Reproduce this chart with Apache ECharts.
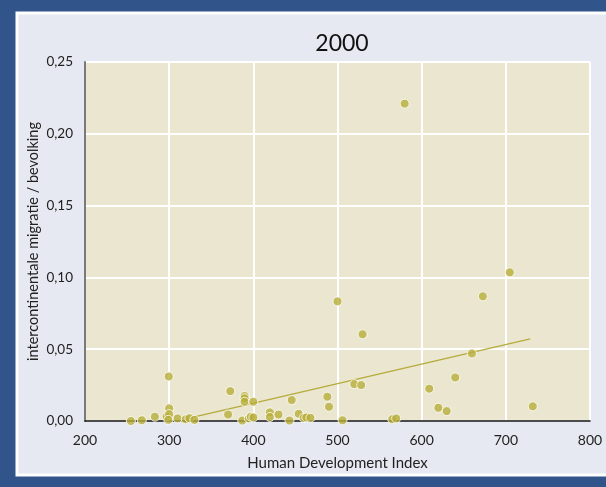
<!DOCTYPE html>
<html>
<head>
<meta charset="utf-8">
<script src="https://cdn.jsdelivr.net/npm/echarts@6/dist/echarts.min.js"></script>
<style>
html,body{margin:0;padding:0;background:#31558a;}
#c{width:606px;height:487px;}
</style>
</head>
<body>
<div id="c"></div>
<script>
const title = "2000";
const xName = "Human Development Index";
const yName = "intercontinentale migratie / bevolking";
const hdi = [254.5,267.5,283,297,299.5,300,300,299,310,319.7,324,330,370,372.6,389.6,389.6,389.6,400,386.8,394.7,397,400,419.6,419.6,429.9,442.9,445.6,453.9,459.8,463,467.8,487.9,489.9,500,506,519.9,528.2,529.8,565,569.7,579.8,609,619.8,629.7,639.9,659.7,672.7,704.7,732];
const ratio = [0.000,0.0005,0.003,0.003,0.031,0.0088,0.0047,0.0008,0.0018,0.0012,0.002,0.0008,0.0045,0.0208,0.0174,0.0158,0.0134,0.0134,0.0003,0.0018,0.003,0.0025,0.006,0.0028,0.0045,0.0003,0.0146,0.005,0.0022,0.0025,0.0022,0.0169,0.0099,0.0833,0.0005,0.0257,0.025,0.0604,0.0012,0.0018,0.221,0.0225,0.0092,0.0069,0.0303,0.047,0.0868,0.1035,0.0102];
const trendX = [325, 729];
const trendY = [0.0022, 0.0572];

const chart = echarts.init(document.getElementById('c'));
const font = 'Lato, "Open Sans", sans-serif';
chart.setOption({
  backgroundColor: '#31558a',
  animation: false,
  graphic: [{
    type: 'rect', z: -10, silent: true,
    shape: {x: 17, y: 13, width: 592, height: 462},
    style: {fill: '#e6e9f1', stroke: '#ffffff', lineWidth: 3}
  }],
  title: {
    text: title, left: 337, top: 27, textAlign: 'center',
    textStyle: {fontFamily: font, fontSize: 23, fontWeight: 'normal', color: '#111'}
  },
  grid: {left: 85, right: 16, top: 62, bottom: 66, show: true, backgroundColor: '#ebe6cf', borderWidth: 0},
  xAxis: {
    type: 'value', min: 200, max: 800, interval: 100,
    name: xName, nameLocation: 'middle', nameGap: 35,
    nameTextStyle: {fontFamily: font, fontSize: 15, color: '#222'},
    axisLine: {show: true, onZero: false, lineStyle: {color: '#111', width: 1.5}},
    axisTick: {show: false},
    axisLabel: {fontFamily: font, fontSize: 14, color: '#222', margin: 12},
    splitLine: {show: true, lineStyle: {color: '#ffffff', width: 2}}
  },
  yAxis: {
    type: 'value', min: 0, max: 0.25, interval: 0.05,
    name: yName, nameLocation: 'middle', nameGap: 44, nameMoveOverlap: false,
    nameTextStyle: {fontFamily: font, fontSize: 14.5, color: '#222'},
    axisLine: {show: true, lineStyle: {color: '#7a7a7a', width: 2}},
    axisTick: {show: false},
    axisLabel: {fontFamily: font, fontSize: 13.5, color: '#222', margin: 12,
      formatter: v => v.toFixed(2).replace('.', ',')},
    splitLine: {show: true, lineStyle: {color: '#ffffff', width: 2}}
  },
  series: [
    {
      type: 'line', data: trendX.map((x, i) => [x, trendY[i]]),
      symbol: 'none', lineStyle: {color: '#b5ab3b', width: 1.2}, z: 2
    },
    {
      type: 'scatter', data: hdi.map((x, i) => [x, ratio[i]]),
      symbolSize: 9,
      itemStyle: {color: '#b8ae3a', borderColor: '#ffffff', borderWidth: 1},
      z: 3
    }
  ]
});
</script>
</body>
</html>
